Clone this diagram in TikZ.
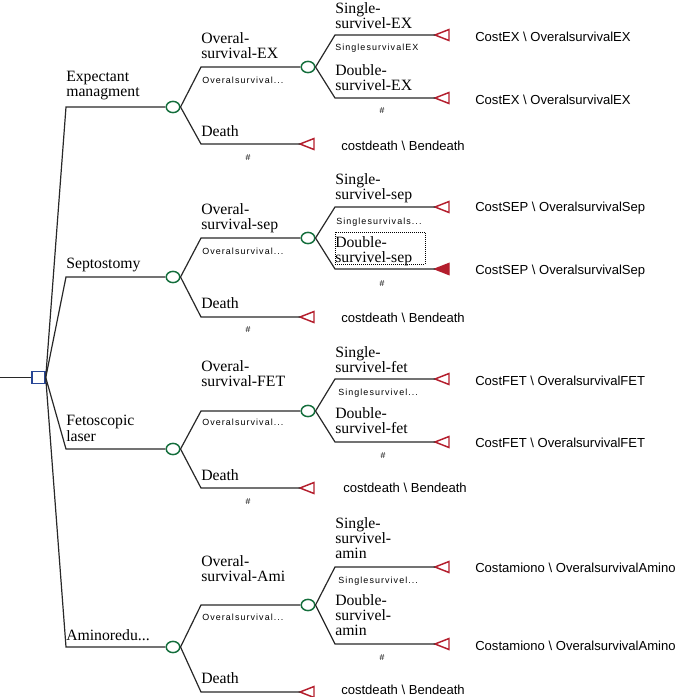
\documentclass[tikz,border=0pt]{standalone}
\usepackage{fontspec}
\setmainfont{Liberation Serif}
\newfontfamily\smallsans[LetterSpace=12]{Liberation Sans}
\newfontfamily\paysans{Liberation Sans}
\usetikzlibrary{shapes.geometric}
\definecolor{tgreen}{RGB}{20,110,60}
\definecolor{tred}{RGB}{180,30,45}
\definecolor{tblue}{RGB}{40,70,150}
\definecolor{linecol}{RGB}{40,40,40}
\newcommand\termnode[4][]{%
  \node[term] (#2) at (#3,#4) {};
  \draw[tri,#1] (#2.center) -- ++(14,5.5) -- ++(0,-11) -- cycle;}
\begin{document}
\begin{tikzpicture}[x=0.75pt,y=-0.75pt,
 br/.style={draw=linecol,line width=0.9pt},
 chance/.style={ellipse,draw=tgreen,line width=1.1pt,minimum width=10.2pt,minimum height=8.4pt,inner sep=0pt},
 decision/.style={rectangle,draw=tblue,line width=1.1pt,minimum width=9.75pt,minimum height=9pt,inner sep=0pt},
 term/.style={inner sep=0pt,minimum size=0pt,outer sep=0pt},
 tri/.style={draw=tred,line width=1.1pt,line join=miter},
 lab/.style={anchor=north west,inner sep=0pt,align=left,font=\fontsize{11.8}{11.5}\selectfont},
 small/.style={anchor=north west,inner sep=0pt,font=\smallsans\fontsize{6.7}{8}\selectfont},
 hash/.style={anchor=north,inner sep=0pt,font=\paysans\fontsize{6.5}{7}\selectfont},
 pay/.style={anchor=west,inner sep=0pt,font=\paysans\fontsize{9.8}{11}\selectfont}]
\useasboundingbox (0,0) rectangle (685,697);

\node[decision] (root) at (38.5,377.5) {};
\coordinate (in) at (0,377.5);
\draw[br] (in) -- (root.west);

% ---------------- Expectant managment
\node[chance] (c1) at (173,107) {};
\coordinate (e1) at (66,107);
\draw[br] (root.east) -- (e1) -- (c1.west);
\node[chance] (c1s) at (308,67) {};
\coordinate (c1u) at (201,67);
\draw[br] (c1.east) -- (c1u) -- (c1s.west);
\termnode{t1d}{300}{144}
\coordinate (c1l) at (201,144);
\draw[br] (c1.east) -- (c1l) -- (t1d);
\termnode{t1a}{435}{35}
\coordinate (c1su) at (335,35);
\draw[br] (c1s.east) -- (c1su) -- (t1a);
\termnode{t1b}{435}{98}
\coordinate (c1sl) at (335,98);
\draw[br] (c1s.east) -- (c1sl) -- (t1b);

\node[lab] (l1) at (66,71) {Expectant\\managment};
\node[lab] (l1u) at (201,32) {Overal-\\survival-EX};
\node[small] (p1u) at (202,77) {Overalsurvival...};
\node[lab] (l1d) at (201,125) {Death};
\node[hash] (h1d) at (248,154) {\#};
\node[lab] (l1a) at (335,2) {Single-\\survivel-EX};
\node[small] (p1a) at (335,44) {SinglesurvivalEX};
\node[lab] (l1b) at (335,64) {Double-\\survivel-EX};
\node[hash] (h1b) at (382,107) {\#};
\node[pay] (v1a) at (475,36.5) {CostEX \textbackslash{} OveralsurvivalEX};
\node[pay] (v1b) at (475,99.5) {CostEX \textbackslash{} OveralsurvivalEX};
\node[pay] (v1d) at (341,145.5) {costdeath \textbackslash{} Bendeath};

% ---------------- Septostomy
\node[chance] (c2) at (173,277) {};
\coordinate (e2) at (66,277);
\draw[br] (root.east) -- (e2) -- (c2.west);
\node[chance] (c2s) at (308,238) {};
\coordinate (c2u) at (201,238);
\draw[br] (c2.east) -- (c2u) -- (c2s.west);
\termnode{t2d}{300}{317}
\coordinate (c2l) at (201,317);
\draw[br] (c2.east) -- (c2l) -- (t2d);
\termnode{t2a}{435}{207}
\coordinate (c2su) at (335,207);
\draw[br] (c2s.east) -- (c2su) -- (t2a);
\termnode[fill=tred]{t2b}{435}{269}
\coordinate (c2sl) at (335,269);
\draw[br] (c2s.east) -- (c2sl) -- (t2b);

\node[lab] (l2) at (66,258) {Septostomy};
\node[lab] (l2u) at (201,203) {Overal-\\survival-sep};
\node[small] (p2u) at (202,248) {Overalsurvival...};
\node[lab] (l2d) at (201,297) {Death};
\node[hash] (h2d) at (248,326) {\#};
\node[lab] (l2a) at (335,173) {Single-\\survivel-sep};
\node[small] (p2a) at (336,218) {Singlesurvivals...};
\node[lab] (l2b) at (335,236) {Double-\\survivel-sep};
\draw[densely dotted,line width=0.5pt] (335,232) rectangle (425,264);
\node[hash] (h2b) at (382,280) {\#};
\node[pay] (v2a) at (475,208.5) {CostSEP \textbackslash{} OveralsurvivalSep};
\node[pay] (v2b) at (475,271) {CostSEP \textbackslash{} OveralsurvivalSep};
\node[pay] (v2d) at (341,318) {costdeath \textbackslash{} Bendeath};

% ---------------- Fetoscopic laser
\node[chance] (c3) at (173,449) {};
\coordinate (e3) at (66,449);
\draw[br] (root.east) -- (e3) -- (c3.west);
\node[chance] (c3s) at (308,411) {};
\coordinate (c3u) at (201,411);
\draw[br] (c3.east) -- (c3u) -- (c3s.west);
\termnode{t3d}{300}{488}
\coordinate (c3l) at (201,488);
\draw[br] (c3.east) -- (c3l) -- (t3d);
\termnode{t3a}{435}{379}
\coordinate (c3su) at (335,379);
\draw[br] (c3s.east) -- (c3su) -- (t3a);
\termnode{t3b}{435}{442}
\coordinate (c3sl) at (335,442);
\draw[br] (c3s.east) -- (c3sl) -- (t3b);

\node[lab] (l3) at (66,415) {Fetoscopic\\laser};
\node[lab] (l3u) at (201,360) {Overal-\\survival-FET};
\node[small] (p3u) at (202,419) {Overalsurvival...};
\node[lab] (l3d) at (201,469) {Death};
\node[hash] (h3d) at (248,498) {\#};
\node[lab] (l3a) at (335,346) {Single-\\survivel-fet};
\node[small] (p3a) at (338,389) {Singlesurvivel...};
\node[lab] (l3b) at (335,407) {Double-\\survivel-fet};
\node[hash] (h3b) at (383,452) {\#};
\node[pay] (v3a) at (475,381) {CostFET \textbackslash{} OveralsurvivalFET};
\node[pay] (v3b) at (475,443) {CostFET \textbackslash{} OveralsurvivalFET};
\node[pay] (v3d) at (343,488) {costdeath \textbackslash{} Bendeath};

% ---------------- Aminoreduction
\node[chance] (c4) at (173,647) {};
\coordinate (e4) at (66,647);
\draw[br] (root.east) -- (e4) -- (c4.west);
\node[chance] (c4s) at (308,605) {};
\coordinate (c4u) at (201,605);
\draw[br] (c4.east) -- (c4u) -- (c4s.west);
\termnode{t4d}{300}{692}
\coordinate (c4l) at (201,692);
\draw[br] (c4.east) -- (c4l) -- (t4d);
\termnode{t4a}{435}{567}
\coordinate (c4su) at (335,567);
\draw[br] (c4s.east) -- (c4su) -- (t4a);
\termnode{t4b}{435}{644}
\coordinate (c4sl) at (335,644);
\draw[br] (c4s.east) -- (c4sl) -- (t4b);

\node[lab] (l4) at (66,629) {Aminoredu...};
\node[lab] (l4u) at (201,555) {Overal-\\survival-Ami};
\node[small] (p4u) at (202,614) {Overalsurvival...};
\node[lab] (l4d) at (201,672) {Death};
\node[lab] (l4a) at (335,517) {Single-\\survivel-\\amin};
\node[small] (p4a) at (338,577) {Singlesurvivel...};
\node[lab] (l4b) at (335,594) {Double-\\survivel-\\amin};
\node[hash] (h4b) at (382,654) {\#};
\node[pay] (v4a) at (475,568) {Costamiono \textbackslash{} OveralsurvivalAmino};
\node[pay] (v4b) at (475,646) {Costamiono \textbackslash{} OveralsurvivalAmino};
\node[pay] (v4d) at (341,690) {costdeath \textbackslash{} Bendeath};
\end{tikzpicture}
\end{document}
